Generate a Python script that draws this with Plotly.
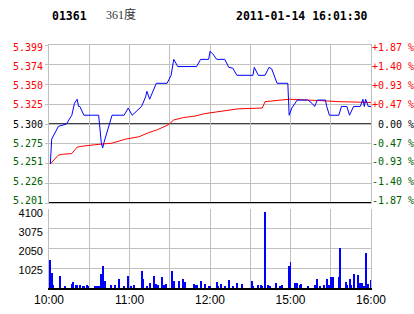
import plotly.graph_objects as go

# ---- data ----
price_min = [1, 2, 7, 12, 13, 17, 19, 21, 22, 23, 26, 37, 38, 39, 40, 41, 47, 56, 59, 62,
             69, 72, 73, 75, 77, 80, 88, 91, 93, 96, 110, 113, 119, 120, 122, 125, 131, 134,
             137, 140, 152, 153, 156, 161, 164, 166, 170, 178, 179, 181, 185, 193, 196, 198,
             200, 206, 207, 209, 216, 218, 222, 224, 227, 232, 234, 235, 236, 238, 240]
price_val = [5.250, 5.281, 5.297, 5.300, 5.300, 5.311, 5.326, 5.331, 5.322, 5.322, 5.311,
             5.311, 5.288, 5.276, 5.270, 5.277, 5.311, 5.311, 5.320, 5.311, 5.322, 5.334,
             5.341, 5.331, 5.339, 5.351, 5.351, 5.361, 5.381, 5.372, 5.372, 5.381, 5.381,
             5.391, 5.388, 5.381, 5.381, 5.371, 5.370, 5.361, 5.361, 5.371, 5.361, 5.361,
             5.371, 5.369, 5.351, 5.351, 5.311, 5.320, 5.330, 5.330, 5.326, 5.322, 5.330,
             5.330, 5.322, 5.311, 5.311, 5.322, 5.322, 5.311, 5.322, 5.322, 5.331, 5.322,
             5.331, 5.322, 5.322]

avg_min = [1, 7, 10, 17, 21, 24, 34, 47, 57, 67, 74, 81, 89, 93, 100, 109, 116, 120, 131,
           141, 159, 161, 167, 178, 179, 206, 216, 240]
avg_val = [5.250, 5.261, 5.262, 5.263, 5.271, 5.272, 5.274, 5.276, 5.281, 5.284, 5.289,
           5.293, 5.299, 5.305, 5.308, 5.310, 5.313, 5.314, 5.317, 5.319, 5.320, 5.328,
           5.329, 5.331, 5.331, 5.329, 5.328, 5.327]

vol_min = [1, 2, 3, 8, 12, 17, 18, 20, 21, 23, 25, 26, 28, 29, 34, 36, 37, 39, 40, 42, 46,
           49, 52, 56, 59, 61, 63, 69, 70, 73, 75, 78, 80, 81, 84, 86, 87, 92, 93, 97, 100,
           101, 108, 109, 110, 113, 116, 119, 120, 125, 126, 128, 131, 134, 137, 140, 144,
           151, 152, 156, 158, 159, 161, 163, 165, 169, 172, 174, 179, 180, 183, 185, 187,
           188, 193, 198, 199, 200, 202, 205, 207, 209, 210, 212, 216, 217, 221, 222, 224,
           225, 227, 230, 232, 233, 235, 236, 237, 238, 240]
vol_val = [1453, 763, 155, 623, 104, 208, 311, 155, 155, 155, 104, 104, 155, 104, 104, 104,
           104, 727, 1142, 363, 155, 155, 467, 104, 623, 104, 155, 882, 467, 104, 260, 623,
           208, 155, 571, 155, 208, 882, 363, 363, 467, 311, 208, 155, 155, 363, 208, 104,
           104, 311, 104, 208, 104, 415, 104, 260, 208, 363, 104, 155, 155, 104, 3960, 155,
           104, 260, 104, 155, 1142, 1349, 260, 260, 155, 208, 104, 155, 155, 467, 104, 155,
           467, 155, 571, 571, 571, 2060, 311, 155, 467, 155, 727, 675, 260, 260, 104, 1816,
           104, 208, 415]

price_ticks = [5.399, 5.374, 5.350, 5.325, 5.300, 5.275, 5.251, 5.226, 5.201]
pct_ticks = ["+1.87 %", "+1.40 %", "+0.93 %", "+0.47 %", "&nbsp;0.00 %",
             "-0.47 %", "-0.93 %", "-1.40 %", "-1.87 %"]
prev_close = 5.300
vol_ticks = [1025, 2050, 3075, 4100]
time_ticks = [0, 30, 60, 90, 120, 150, 180, 210, 240]
time_labels = ["10:00", "", "11:00", "", "12:00", "", "15:00", "", "16:00"]

RED = "#ff0000"
GREEN = "#006000"
GRID = "#c0c0c0"


def col(i):
    return RED if i < 4 else ("#000000" if i == 4 else GREEN)


left_text = [f'<span style="color:{col(i)}">{v:.3f}</span>' for i, v in enumerate(price_ticks)]
right_text = [f'<span style="color:{col(i)}">{t}</span>' for i, t in enumerate(pct_ticks)]

# label axes use a slightly wider range so the labels sit a little inside the grid, as in the original
P_LO, P_HI = 5.201, 5.399
LBL_RANGE = [5.1975, 5.4025]
VOL_RANGE = [0, 4100]
VOL_LBL_RANGE = [49, 4333]

fig = go.Figure()
fig.add_trace(go.Scatter(x=avg_min, y=avg_val, mode="lines", line=dict(color=RED, width=1),
                         xaxis="x", yaxis="y", hoverinfo="skip"))
fig.add_trace(go.Scatter(x=price_min, y=price_val, mode="lines", line=dict(color="#0000ff", width=1),
                         xaxis="x", yaxis="y", hoverinfo="skip"))
for ax in ("y3", "y4"):
    fig.add_trace(go.Scatter(x=[0, 240], y=[5.3, 5.3], mode="lines", line=dict(width=0),
                             xaxis="x", yaxis=ax, hoverinfo="skip", showlegend=False))
fig.add_trace(go.Scatter(x=[0, 240], y=[100, 100], mode="lines", line=dict(width=0),
                         xaxis="x2", yaxis="y5", hoverinfo="skip", showlegend=False))
fig.add_trace(go.Bar(x=vol_min, y=vol_val, width=0.75, marker=dict(color="#0000ff", line=dict(width=0)),
                     xaxis="x2", yaxis="y2", hoverinfo="skip"))

top_dom = (288 - 203) / 243
vol_dom = 79 / 243
mono = "DejaVu Sans Mono"

fig.update_layout(
    width=414, height=314,
    margin=dict(l=49, r=43, t=45, b=26, autoexpand=False),
    paper_bgcolor="white", plot_bgcolor="white",
    showlegend=False, bargap=0,
    xaxis=dict(domain=[0, 1], anchor="y", range=[0, 240], tickvals=time_ticks,
               showticklabels=False, showgrid=True, gridcolor=GRID, gridwidth=1,
               zeroline=False, showline=True, linecolor=GRID, mirror=True, ticks="",
               automargin=False),
    xaxis2=dict(domain=[0, 1], anchor="y2", range=[0, 240], tickvals=time_ticks,
                ticktext=time_labels, showgrid=True, gridcolor=GRID, gridwidth=1,
                zeroline=False, showline=True, linecolor="#000000", linewidth=2, mirror=False,
                ticks="", automargin=False,
                tickfont=dict(family="Liberation Sans", size=12, color="#000000")),
    yaxis=dict(domain=[top_dom, 1], anchor="x", range=[P_LO, P_HI], tickvals=price_ticks,
               showticklabels=False, showgrid=True, gridcolor=GRID, zeroline=False,
               showline=True, linecolor=GRID, mirror=True, ticks="outside", ticklen=3,
               tickcolor=GRID, automargin=False),
    yaxis4=dict(overlaying="y", side="left", anchor="x", range=LBL_RANGE,
                tickvals=price_ticks, ticktext=left_text, showgrid=False, zeroline=False,
                showline=False, ticks="", ticklabelstandoff=5, automargin=False,
                tickfont=dict(family=mono, size=10)),
    yaxis3=dict(overlaying="y", side="right", anchor="x", range=LBL_RANGE,
                tickvals=price_ticks, ticktext=right_text, showgrid=False, zeroline=False,
                showline=False, ticks="", automargin=False, tickfont=dict(family=mono, size=10)),
    yaxis2=dict(domain=[0, vol_dom], anchor="x2", range=VOL_RANGE, tickvals=vol_ticks,
                showticklabels=False, showgrid=True, gridcolor=GRID,
                zeroline=False, showline=True, linecolor=GRID, mirror=True, ticks="",
                automargin=False),
    yaxis5=dict(overlaying="y2", side="left", anchor="x2", range=VOL_LBL_RANGE,
                tickvals=vol_ticks, ticktext=[str(v) for v in vol_ticks], showgrid=False,
                zeroline=False, showline=False, ticks="", ticklabelstandoff=5, automargin=False,
                tickfont=dict(family="Liberation Sans", size=11, color="#000000")),
    shapes=[
        dict(type="line", xref="x", yref="y", x0=0, x1=240, y0=prev_close, y1=prev_close,
             line=dict(color="#000000", width=1.5), layer="below"),
        dict(type="line", xref="x", yref="y", x0=0, x1=240, y0=P_LO, y1=P_LO,
             line=dict(color="#000000", width=2), layer="above"),
    ],
    annotations=[
        dict(text="<b>01361</b>", xref="paper", yref="paper", x=0.003, y=(288 - 16) / 243,
             xanchor="left", yanchor="middle", showarrow=False,
             font=dict(family=mono, size=11.5, color="#000000")),
        dict(text="361度", xref="paper", yref="paper", x=(104 - 49) / 322, y=(288 - 15) / 243,
             xanchor="left", yanchor="middle", showarrow=False,
             font=dict(family="Liberation Serif, Noto Sans CJK SC", size=12, color="#333333")),
        dict(text="<b>2011-01-14 16:01:30</b>", xref="paper", yref="paper",
             x=(370 - 49) / 322, y=(288 - 16) / 243, xanchor="right", yanchor="middle",
             showarrow=False, font=dict(family=mono, size=11.5, color="#000000")),
    ],
)

fig.write_html("out.html")
